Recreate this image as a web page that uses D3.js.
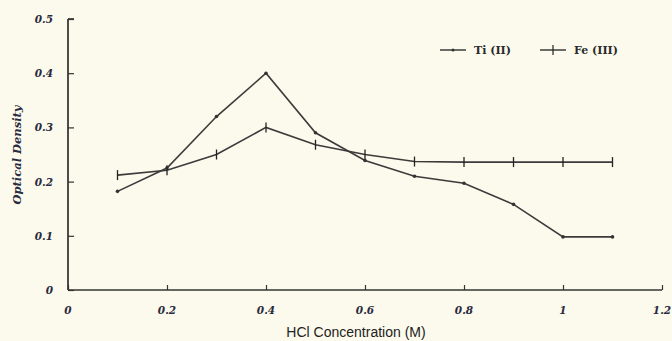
<!DOCTYPE html>
<html>
<head>
<meta charset="utf-8">
<script src="https://cdn.jsdelivr.net/npm/d3@7"></script>
<style>
    body { margin: 0; background: #fcfaec; }
    svg { display: block; }
    .tick-label { font-family: "DejaVu Serif", serif; font-weight: bold; font-style: italic; font-size: 10.5px; fill: #2a2a40; }
    .legend-text { font-family: "DejaVu Serif", serif; font-weight: bold; font-size: 11px; fill: #2a2a2a; }
</style>
</head>
<body>
<svg id="chart" width="672" height="341"></svg>
<script>
// concentrations (M)
const concentrations = [0.1, 0.2, 0.3, 0.4, 0.5, 0.6, 0.7, 0.8, 0.9, 1.0, 1.1];
const tiValues = [0.182, 0.225, 0.32, 0.40, 0.29, 0.239, 0.21, 0.197, 0.158, 0.098, 0.098];
const feValues = [0.212, 0.221, 0.25, 0.30, 0.268, 0.25, 0.237, 0.236, 0.236, 0.236, 0.236];
const seriesNames = ['Ti (II)', 'Fe (III)'];
const xTicks = [0, 0.2, 0.4, 0.6, 0.8, 1, 1.2];
const yTicks = [0, 0.1, 0.2, 0.3, 0.4, 0.5];

const svg = d3.select('#chart');
const lineColor = '#3b3b3b';

const x = d3.scaleLinear().domain([0, 1.2]).range([68, 662]);
const y = d3.scaleLinear().domain([0, 0.5]).range([290, 19]);

// y axis
const yAxis = svg.append('g')
    .attr('transform', `translate(${x(0)},0)`)
    .call(d3.axisLeft(y).tickValues(yTicks).tickSize(-6).tickFormat(''));
yAxis.select('.domain').attr('stroke', '#222').attr('stroke-width', 1.6).attr('d', `M0,${y(0.5)}H6M0,${y(0.5)}V${y(0)}`);
yAxis.selectAll('.tick line').attr('stroke', '#333').attr('stroke-width', 1.2);

svg.append('g').selectAll('text')
    .data(yTicks)
    .join('text')
    .attr('class', 'tick-label')
    .attr('x', 53)
    .attr('y', d => y(d) + 4)
    .attr('text-anchor', 'end')
    .text(d => d === 0 ? '0' : d.toFixed(1));

// x axis
const xAxis = svg.append('g')
    .attr('transform', `translate(0,${y(0)})`)
    .call(d3.axisBottom(x).tickValues(xTicks).tickSize(-5).tickFormat(''));
xAxis.select('.domain').attr('stroke', '#333').attr('stroke-width', 1.6).attr('d', `M${x(0)},0H${x(1.2)}`);
xAxis.selectAll('.tick line').attr('stroke', '#333').attr('stroke-width', 1.2);

svg.append('g').selectAll('text')
    .data(xTicks)
    .join('text')
    .attr('class', 'tick-label')
    .attr('x', d => x(d))
    .attr('y', 314)
    .attr('text-anchor', 'middle')
    .text(d => d === 0 || d === 1 ? String(d) : d.toFixed(1));

// axis titles
svg.append('text')
    .attr('x', 356)
    .attr('y', 337)
    .attr('text-anchor', 'middle')
    .style('font-family', '"Liberation Sans", Arial, sans-serif')
    .style('font-size', '14px')
    .style('fill', '#222')
    .text('HCl Concentration (M)');

svg.append('text')
    .attr('transform', 'translate(21,155) rotate(-90)')
    .attr('text-anchor', 'middle')
    .style('font-family', '"DejaVu Serif", serif')
    .style('font-weight', 'bold')
    .style('font-style', 'italic')
    .style('font-size', '11.5px')
    .style('fill', '#2a2a40')
    .text('Optical Density');

// lines
const line = d3.line().x(d => x(d[0])).y(d => y(d[1]));
const tiData = concentrations.map((c, i) => [c, tiValues[i]]);
const feData = concentrations.map((c, i) => [c, feValues[i]]);

svg.append('path').datum(tiData)
    .attr('d', line).attr('fill', 'none')
    .attr('stroke', lineColor).attr('stroke-width', 1.6);
svg.append('path').datum(feData)
    .attr('d', line).attr('fill', 'none')
    .attr('stroke', lineColor).attr('stroke-width', 1.6);

// markers
svg.append('g').selectAll('circle')
    .data(tiData)
    .join('circle')
    .attr('cx', d => x(d[0]))
    .attr('cy', d => y(d[1]))
    .attr('r', 1.8)
    .attr('fill', '#333');
svg.append('g').selectAll('line')
    .data(feData)
    .join('line')
    .attr('x1', d => x(d[0])).attr('x2', d => x(d[0]))
    .attr('y1', d => y(d[1]) - 5).attr('y2', d => y(d[1]) + 5)
    .attr('stroke', '#222').attr('stroke-width', 1.3);

// legend
const legend = svg.append('g');
legend.append('line').attr('x1', 440).attr('x2', 466).attr('y1', 50).attr('y2', 50)
    .attr('stroke', lineColor).attr('stroke-width', 1.5);
legend.append('circle').attr('cx', 453).attr('cy', 50).attr('r', 1.5).attr('fill', '#333');
legend.append('text').attr('class', 'legend-text').attr('x', 474).attr('y', 54).text(seriesNames[0]);
legend.append('line').attr('x1', 540).attr('x2', 566).attr('y1', 50).attr('y2', 50)
    .attr('stroke', lineColor).attr('stroke-width', 1.5);
legend.append('line').attr('x1', 553).attr('x2', 553).attr('y1', 45).attr('y2', 55)
    .attr('stroke', '#222').attr('stroke-width', 1.2);
legend.append('text').attr('class', 'legend-text').attr('x', 574).attr('y', 54).text(seriesNames[1]);
</script>
</body>
</html>
